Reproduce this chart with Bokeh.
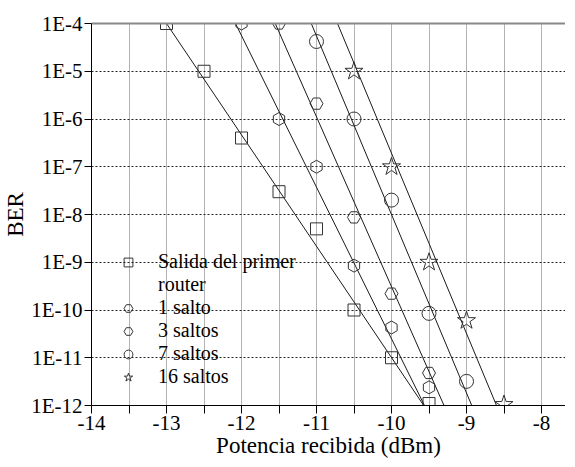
import numpy as np
from bokeh.plotting import figure
from bokeh.models import (FixedTicker, LinearAxis, Legend, LegendItem, Range1d,
                          CustomJSTickFormatter)
from bokeh.embed import file_html
from bokeh.resources import INLINE

# ---- data ----
sq_x = [-13.0, -12.5, -12.0, -11.5, -11.0, -10.5, -10.0, -9.5]
sq_y = [1e-4, 1e-5, 4e-7, 3e-8, 5e-9, 1e-10, 1e-11, 1.1e-12]

h1_x = [-12.0, -11.5, -11.0, -10.5, -10.0, -9.5]
h1_y = [1e-4, 1e-6, 1e-7, 8.5e-10, 4.3e-11, 2.4e-12]

h3_x = [-11.5, -11.0, -10.5, -10.0, -9.5]
h3_y = [1e-4, 2.1e-6, 8.7e-9, 2.2e-10, 4.8e-12]

h7_x = [-11.0, -10.5, -10.0, -9.5, -9.0]
h7_y = [4.2e-5, 1e-6, 2e-8, 8.5e-11, 3.2e-12]

h16_x = [-10.5, -10.0, -9.5, -9.0, -8.5]
h16_y = [1e-5, 1e-7, 1e-9, 6e-11, 1.05e-12]

# fitted lines: x where each line crosses BER = 1e-4 and BER = 1e-12
fit_ber = [1e-4, 1e-12]
fit_sq = [-13.0, -9.57]
fit_h1 = [-12.08, -9.56]
fit_h3 = [-11.55, -9.30]
fit_h7 = [-11.07, -8.93]
fit_h16 = [-10.72, -8.60]

labels = ["Salida del primer", "router", "1 salto", "3 saltos", "7 saltos", "16 saltos"]

x_major = [-14, -13, -12, -11, -10, -9, -8]
x_minor = [-13.5, -12.5, -11.5, -10.5, -9.5, -8.5]
x_grid = [-14, -13.5, -13, -12.5, -12, -11.5, -11, -10.5, -10, -9.5, -9, -8.5, -8]
y_exponents = list(range(-12, -3))
y_ticks = [10.0 ** e for e in y_exponents]

FONT = "Liberation Serif"

p = figure(frame_width=474, frame_height=382,
           x_range=Range1d(-14, -7.68), y_range=Range1d(1e-12, 1e-4),
           y_axis_type="log", output_backend="svg", toolbar_location=None,
           min_border_left=85, min_border_right=0, min_border_top=23,
           min_border_bottom=40, outline_line_color=None,
           background_fill_color="white", border_fill_color="white")

# axes
p.xaxis.ticker = FixedTicker(ticks=x_major, minor_ticks=x_minor)
p.xaxis.formatter = CustomJSTickFormatter(code="return tick.toFixed(0);")
p.xaxis.axis_label = "Potencia recibida (dBm)"
p.yaxis.ticker = FixedTicker(ticks=y_ticks, minor_ticks=[])
p.yaxis.formatter = CustomJSTickFormatter(code="return '1E' + Math.round(Math.log10(tick));")
p.yaxis.axis_label = "BER"

for ax in (p.xaxis[0], p.yaxis[0]):
    ax.axis_line_color = "black"
    ax.axis_line_width = 1
    ax.major_tick_line_color = "black"
    ax.minor_tick_line_color = "black"
    ax.major_tick_in = 0
    ax.minor_tick_in = 0
    ax.major_label_text_font = FONT
    ax.major_label_text_font_size = "21px"
    ax.major_label_text_color = "black"
    ax.axis_label_text_font = FONT
    ax.axis_label_text_font_size = "23px"
    ax.axis_label_text_font_style = "normal"
    ax.axis_label_text_color = "black"
    ax.axis_label_standoff = 0

p.xaxis.major_tick_out = 8
p.xaxis.minor_tick_out = 8
p.xaxis.major_label_standoff = 2
p.yaxis.major_tick_out = 7
p.yaxis.minor_tick_out = 0
p.yaxis.major_label_standoff = 2

top_axis = LinearAxis(ticker=FixedTicker(ticks=[]), axis_line_color="#888888",
                      axis_line_width=2, major_tick_line_color=None,
                      minor_tick_line_color=None, major_label_text_font_size="0px")
p.add_layout(top_axis, "above")

# grids
p.xgrid.ticker = FixedTicker(ticks=x_grid)
p.xgrid.grid_line_color = "#666666"
p.xgrid.grid_line_dash = "1 1"
p.xgrid.grid_line_width = 1
p.ygrid.grid_line_color = "#222222"
p.ygrid.grid_line_dash = "2 2"
p.ygrid.grid_line_width = 1

# fitted lines
for fx in (fit_sq, fit_h1, fit_h3, fit_h7, fit_h16):
    p.line(fx, fit_ber, line_color="#1a1a1a", line_width=1)

mk = dict(fill_color=None, line_color="#333333", line_width=1)
r_sq = p.scatter(sq_x, sq_y, marker="square", size=12, **mk)
r_h1 = p.scatter(h1_x, h1_y, marker="hex", size=13, angle=np.pi / 2, **mk)
r_h3 = p.scatter(h3_x, h3_y, marker="hex", size=13, **mk)
r_h7 = p.scatter(h7_x, h7_y, marker="circle", size=14, **mk)
r_h16 = p.scatter(h16_x, h16_y, marker="star", size=19, **mk)

items = [
    LegendItem(label=labels[0], renderers=[r_sq]),
    LegendItem(label=labels[1], renderers=[]),
    LegendItem(label=labels[2], renderers=[r_h1]),
    LegendItem(label=labels[3], renderers=[r_h3]),
    LegendItem(label=labels[4], renderers=[r_h7]),
    LegendItem(label=labels[5], renderers=[r_h16]),
]
legend = Legend(items=items, location=(21, 17), label_text_font=FONT,
                label_text_font_size="20px", label_text_color="black",
                glyph_width=32, glyph_height=22, label_height=22, spacing=0,
                padding=5, margin=0, label_standoff=14,
                background_fill_alpha=0, border_line_color=None)
p.add_layout(legend)

open("out.html", "w").write(file_html(p, INLINE))
